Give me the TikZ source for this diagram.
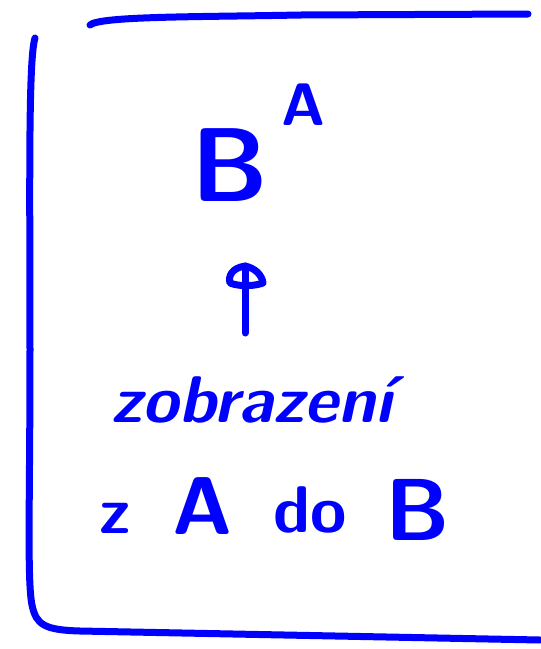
\documentclass[tikz,border=0pt]{standalone}
\usetikzlibrary{arrows.meta}
\definecolor{ink}{RGB}{0,0,255}
\tikzset{
  stroke/.style={draw=ink, line width=7pt, line cap=round, line join=round},
  hand/.style={text=ink, inner sep=0pt, font=\sffamily\bfseries},
}
\begin{document}
\begin{tikzpicture}[x=1pt,y=-1pt]
\useasboundingbox (0,0) rectangle (541,649);
% frame
\coordinate (t0) at (90,25);
\coordinate (t1) at (528,14);
\draw[stroke] (t0) .. controls (100,16) and (200,17) .. (300,15) -- (t1);
\coordinate (l0) at (35,38);
\coordinate (b1) at (540,640);
\draw[stroke] (l0) .. controls (28,60) and (30,200) .. (30,350)
  .. controls (30,500) and (27,580) .. (32,605)
  .. controls (36,625) and (45,630) .. (80,631) -- (b1);
% B^A
\node[hand, font=\sffamily\bfseries\fontsize{105}{110}\selectfont] (B1) at (230,165) {B};
\node[hand, font=\sffamily\bfseries\fontsize{60}{64}\selectfont] (A1) at (303,105) {A};
% arrow
\coordinate (ar0) at (245,333);
\coordinate (ar1) at (245,266);
\draw[stroke] (ar0) -- (ar1);
\draw[stroke] (ar1) .. controls (232,268) and (228,276) .. (230,283)
  .. controls (240,287) and (255,286) .. (263,283)
  .. controls (262,275) and (255,268) .. (ar1);
% zobrazeni
\node[hand, font=\sffamily\bfseries\itshape\fontsize{66}{70}\selectfont] (zob) at (252,400) {zobrazení};
% z A do B
\node[hand, font=\sffamily\bfseries\fontsize{66}{70}\selectfont] (z) at (115,518) {z};
\node[hand, font=\sffamily\bfseries\fontsize{82}{86}\selectfont] (A2) at (203,506) {A};
\node[hand, font=\sffamily\bfseries\fontsize{66}{70}\selectfont] (do) at (310,510) {do};
\node[hand, font=\sffamily\bfseries\fontsize{88}{92}\selectfont] (B2) at (418,510) {B};
\end{tikzpicture}
\end{document}
